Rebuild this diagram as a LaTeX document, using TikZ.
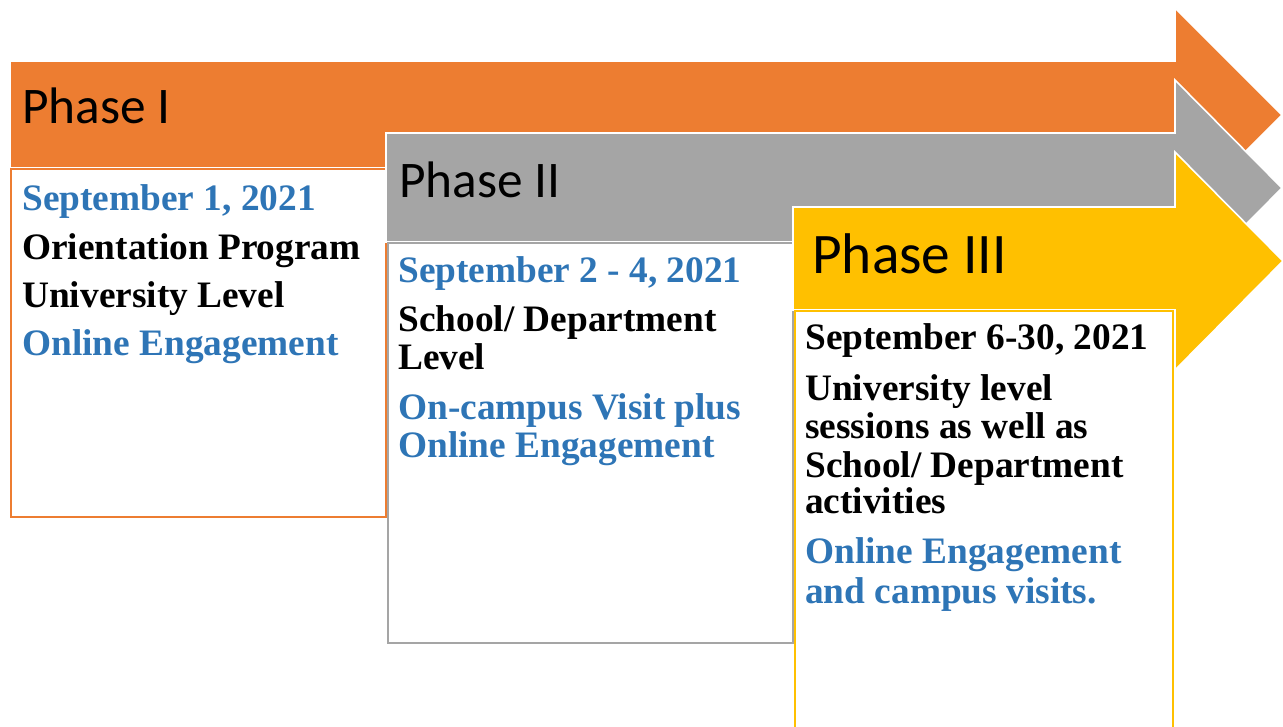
\documentclass[tikz,border=0pt]{standalone}
\usepackage{fontspec}
\setmainfont{Liberation Serif}
\newfontfamily\phasefont{Carlito}
\definecolor{phOrange}{HTML}{ED7D31}
\definecolor{phGray}{HTML}{A5A5A5}
\definecolor{phYellow}{HTML}{FFC000}
\definecolor{phBlue}{HTML}{2E75B6}
\begin{document}
\begin{tikzpicture}[x=0.75pt,y=-0.75pt,
  arrowshape/.style={draw=white,line width=1.2pt,line join=miter},
  phasebox/.style={fill=white,line width=1.5pt},
  phaselabel/.style={anchor=base west,inner sep=0pt,font=\phasefont\fontsize{38.5}{46}\selectfont,text=black},
  bodytext/.style={anchor=base west,inner sep=0pt,font=\bfseries\fontsize{28}{34}\selectfont,text=black},
  bluetext/.style={bodytext,text=phBlue}]
\useasboundingbox (0,0) rectangle (1283,726);
% Phase I
\fill[phOrange,arrowshape] (10,61) -- (1175,61) -- (1175,8) -- (1282,115) -- (1175,222) -- (1175,168) -- (10,168) -- cycle;
\draw[phasebox,draw=phOrange] (11,169) rectangle (386,517);
\node[phaselabel] (p1) at (22,123) {Phase I};
\node[bluetext] (d1) at (22,210) {September 1, 2021};
\node[bodytext] (t1a) at (22,259) {Orientation Program};
\node[bodytext] (t1b) at (22,307) {University Level};
\node[bluetext] (b1) at (22,355) {Online Engagement};
% Phase II
\fill[phGray,arrowshape] (386,133) -- (1175,133) -- (1175,80) -- (1282,188) -- (1175,296) -- (1175,242) -- (386,242) -- cycle;
\draw[phasebox,draw=phGray] (388,243) rectangle (793,643);
\node[phaselabel] (p2) at (399,197) {Phase II};
\node[bluetext] (d2) at (398,282) {September 2 - 4, 2021};
\node[bodytext] (t2a) at (398,331) {School/ Department};
\node[bodytext] (t2b) at (398,369) {Level};
\node[bluetext] (b2a) at (398,419) {On-campus Visit plus};
\node[bluetext] (b2b) at (398,457) {Online Engagement};
% Phase III
\fill[phYellow,arrowshape] (793,207) -- (1175,207) -- (1175,152) -- (1283,261) -- (1175,370) -- (1175,310) -- (793,310) -- cycle;
\draw[phasebox,draw=phYellow] (795,311) rectangle (1173,735);
\node[phaselabel,font=\phasefont\fontsize{43}{51}\selectfont] (p3) at (812,273) {Phase III};
\node[bodytext] (d3) at (805,349) {September 6-30, 2021};
\node[bodytext] (t3a) at (805,400) {University level};
\node[bodytext] (t3b) at (805,438) {sessions as well as};
\node[bodytext] (t3c) at (805,477) {School/ Department};
\node[bodytext] (t3d) at (805,513) {activities};
\node[bluetext] (b3a) at (805,563) {Online Engagement};
\node[bluetext] (b3b) at (805,603) {and campus visits.};
\end{tikzpicture}
\end{document}
